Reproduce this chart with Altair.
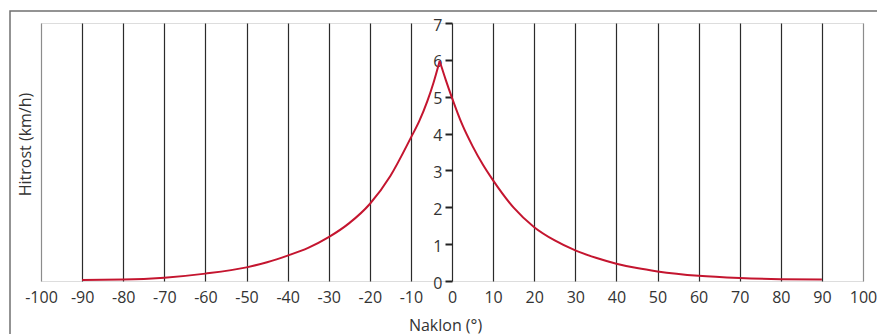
import altair as alt
import pandas as pd

# Slope angle (degrees) and walking speed (km/h).
# The curve is split at its peak into a descending-slope branch and an ascending-slope branch.
angles_left = [-90, -80, -70, -60, -50, -45, -40, -35, -30, -25, -20, -15, -10, -8, -6, -4.5, -3]
speeds_left = [0.03, 0.04, 0.09, 0.20, 0.37, 0.51, 0.69, 0.90, 1.19, 1.57, 2.09, 2.85, 3.89, 4.33, 4.88, 5.38, 5.97]
angles_right = [-3, -1.5, 0, 2.5, 5, 7.5, 10, 15, 20, 25, 30, 35, 40, 45, 50, 60, 70, 80, 90]
speeds_right = [5.97, 5.45, 4.97, 4.24, 3.66, 3.16, 2.73, 1.99, 1.46, 1.10, 0.83, 0.63, 0.47, 0.35, 0.26, 0.14, 0.08, 0.05, 0.04]

x_ticks = list(range(-100, 101, 10))
y_ticks = list(range(0, 8))

df = pd.concat([
    pd.DataFrame({"angle": angles_left, "speed": speeds_left, "branch": "down"}),
    pd.DataFrame({"angle": angles_right, "speed": speeds_right, "branch": "up"}),
])

FONT = "Open Sans"
FS = 16
W, H = 822, 258

x_scale = alt.Scale(domain=[-100, 100], nice=False, zero=False)
y_scale = alt.Scale(domain=[0, 7], nice=False)

x_axis = alt.Axis(
    values=x_ticks, title="Naklon (°)", grid=True,
    gridColor={"condition": {"test": "abs(datum.value) >= 100", "value": "#8c8c8c"}, "value": "#2b2b2b"},
    gridWidth=1.2, ticks=False, domain=False, labelFlush=False,
    labelExpr="toString(datum.value)",
    labelPadding=8, labelFontSize=FS, labelFont=FONT, labelColor="#333333",
    titleFont=FONT, titleFontSize=FS, titleFontWeight="normal", titleColor="#333333",
    titleX=404, titleY=44, titleBaseline="middle", titleAlign="center",
)

y_axis = alt.Axis(
    values=y_ticks, title="Hitrost (km/h)", grid=False, domain=False,
    offset=-W / 2, tickSize=7, tickWidth=2, tickColor="#222222",
    labelPadding=3, labelFontSize=FS, labelFont=FONT, labelColor="#333333",
    labelFlush=False, labelOffset=2,
    titleFont=FONT, titleFontSize=FS, titleFontWeight="normal", titleColor="#333333",
    titleX=-W / 2 - 16, titleY=121, titleAngle=-90, titleBaseline="middle", titleAlign="center",
)

line = alt.Chart(df).mark_line(color="#c4152f", strokeWidth=2, interpolate="monotone").encode(
    x=alt.X("angle:Q", scale=x_scale, axis=x_axis),
    y=alt.Y("speed:Q", scale=y_scale, axis=y_axis),
    detail="branch:N",
)

frame = alt.Chart(pd.DataFrame({"k": [0]})).mark_rect(
    fillOpacity=0, stroke="#707070", strokeWidth=1.5
).encode(
    x=alt.value(-31), y=alt.value(-12), x2=alt.value(W + 100), y2=alt.value(H + 100)
)

chart = alt.layer(frame, line).properties(
    width=W, height=H,
    autosize=alt.AutoSizeParams(type="none"),
    padding={"left": 33, "top": 15, "right": 14, "bottom": 53},
).configure_view(
    stroke="#8c8c8c", strokeWidth=2
).configure(background="white")

chart.save("out.html", embed_options={"renderer": "svg", "actions": False})
